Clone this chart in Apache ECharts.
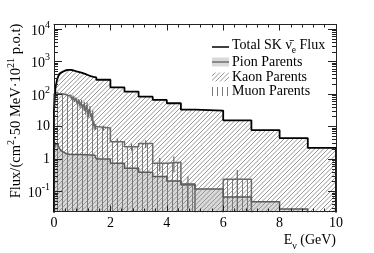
<!DOCTYPE html>
<html><head><meta charset="utf-8">
<script src="https://cdn.jsdelivr.net/npm/echarts@6/dist/echarts.min.js"></script>
<style>html,body{margin:0;padding:0;background:#fff}#c{width:374px;height:253px}</style>
</head><body><div id="c"></div>
<script>
// ---- data (GeV bin edges, flux per bin) ----
const binEdges = [0,0.05,0.1,0.15,0.2,0.25,0.3,0.35,0.4,0.45,0.5,0.55,0.6,0.65,0.7,0.75,0.8,0.85,0.9,0.95,1.0,1.05,1.1,1.15,1.2,1.25,1.3,1.35,1.4,1.45,1.5,2.0,2.5,3.0,3.5,4.0,4.5,5.0,6.0,7.0,8.0,9.0,10.0];
const totalFlux = [30,150,260,350,430,480,510,530,545,555,560,555,545,530,515,500,490,475,460,445,430,415,400,385,370,355,345,335,330,325,
                   275,160,118,83,66,52,33,31,15.5,7.8,4.4,2.2];
const pionFlux = [2.0,2.8,3.0,2.6,2.1,1.8,1.6,1.5,1.45,1.42,1.4,1.4,1.38,1.38,1.37,1.38,1.38,1.37,1.38,1.37,1.36,1.38,1.36,1.35,1.34,1.33,1.32,1.3,1.3,1.28,
                  1.0,0.74,0.52,0.39,0.29,0.21,0.17,0.12,0.068,0.048,0.029,0.01];
const muonFlux = [100,110,105,100,98,102,95,97,100,92,88,90,75,80,65,70,55,60,45,55,40,48,30,45,25,35,20,25,11,10,
                  9,3.4,2.4,3.0,0.74,0.8,0.16,0,0.24,0,0,0];
const muonErr = [4,4,4,4,4,4,4,4,4,5,5,5,8,10,8,10,8,10,9,12,8,10,7,10,6,8,5,6,3,2,
                 1.5,0.9,0.6,0.8,0.33,0.4,0.13,0,0.22,0,0,0];
const xTicks = [0,2,4,6,8,10];
const yDecades = [-1,0,1,2,3,4];
const yLabelBase = ['10','1','10','10','10','10'];
const yLabelExp = ['-1','','','2','3','4'];
const seriesNames = ['Total SK \u03bd\u0304{sub|e} Flux','Pion Parents','Kaon Parents','Muon Parents'];

// ---- helpers ----
const LOG_MIN = -1.615, LOG_MAX = 4.14, FLOOR = -6;
const lg = v => v > 0 ? Math.log10(v) : FLOOR;
function steps(vals){
  const pts = [[binEdges[0], FLOOR]];
  vals.forEach((v,i)=>{ pts.push([binEdges[i], lg(v)], [binEdges[i+1], lg(v)]); });
  pts.push([binEdges[binEdges.length-1], FLOOR]);
  return pts;
}
const errData = [];
muonFlux.forEach((v,i)=>{
  if (v > 0 && muonErr[i] > 0) {
    const c = (binEdges[i] + binEdges[i+1]) / 2;
    errData.push([c, lg(Math.max(v - muonErr[i], 1e-6)), lg(v + muonErr[i])]);
  }
});
const minorVals = [];
for (let n = -2; n <= 4; n++) for (let k = 2; k <= 9; k++) {
  const l = Math.log10(k) + n; if (l > LOG_MIN && l < LOG_MAX) minorVals.push(l);
}
function diagPattern(){
  const c = document.createElement('canvas'); c.width = 9; c.height = 9;
  const g = c.getContext('2d'); g.strokeStyle = '#8a8a8a'; g.lineWidth = 0.9;
  for (let k = 0; k <= 4; k++){ const cc = k*4.5; g.beginPath(); g.moveTo(cc,0); g.lineTo(cc-9,9); g.stroke(); }
  return {image: c, repeat: 'repeat'};
}
function vertPattern(){
  const c = document.createElement('canvas'); c.width = 5; c.height = 5;
  const g = c.getContext('2d'); g.strokeStyle = '#7a7a7a'; g.lineWidth = 1;
  g.beginPath(); g.moveTo(2.5,0); g.lineTo(2.5,5); g.stroke();
  return {image: c, repeat: 'repeat'};
}
const DIAG = diagPattern(), VERT = vertPattern();
const FONT = 'Liberation Serif';
const AX = '#222';

const yBase = (pos, show, ticks, len) => ({
  type: 'value', position: pos, min: LOG_MIN, max: LOG_MAX, z: 10,
  axisLine: {show: true, lineStyle: {color: AX, width: 1}},
  splitLine: {show: false},
  axisTick: {show: true, inside: true, length: len, customValues: ticks, lineStyle: {color: AX, width: 1}},
  axisLabel: show ? {
    show: true, customValues: yDecades, margin: 4, fontFamily: FONT, color: '#000',
    formatter: v => { const i = yDecades.indexOf(Math.round(v)); const e = yLabelExp[i];
      return e ? '{b|' + yLabelBase[i] + '}{s|' + e + '}' : '{b|' + yLabelBase[i] + '}'; },
    rich: { b: {fontSize: 14, fontFamily: FONT, verticalAlign: 'bottom', color: '#000'},
            s: {fontSize: 10, fontFamily: FONT, verticalAlign: 'bottom', padding: [0,0,8,0], color: '#000'} }
  } : {show: false}
});
const xBase = (pos, show) => ({
  type: 'value', position: pos, min: 0, max: 10, interval: 2, z: 10,
  axisLine: {show: true, onZero: false, lineStyle: {color: AX, width: 1}},
  splitLine: {show: false},
  axisTick: {show: true, inside: true, length: 6, lineStyle: {color: AX}},
  minorTick: {show: true, splitNumber: 5, length: 3, lineStyle: {color: AX}},
  axisLabel: show ? {show: true, margin: 5, fontSize: 14, fontFamily: FONT, color: '#000',
      formatter: v => String(xTicks[xTicks.indexOf(v)])} : {show: false}
});

const chart = echarts.init(document.getElementById('c'));
chart.setOption({
  animation: false,
  backgroundColor: '#fff',
  grid: {left: 54, right: 38, top: 24.5, bottom: 41.5, containLabel: false},
  xAxis: [
    Object.assign(xBase('bottom', true), {
      name: '{b|E}{sub|\u03bd}{b| (GeV)}', nameLocation: 'end', nameGap: 0,
      nameTextStyle: {align: 'right', verticalAlign: 'top', padding: [22,0,0,0],
        rich: { b: {fontSize: 14, fontFamily: FONT, verticalAlign: 'bottom', padding: [0,0,4,0], color: '#000'},
                sub: {fontSize: 10, fontFamily: FONT, verticalAlign: 'bottom', color: '#000'} }}
    }),
    xBase('top', false)
  ],
  yAxis: [
    yBase('left', true, yDecades, 8),
    yBase('left', false, minorVals, 4),
    yBase('right', false, yDecades, 8),
    yBase('right', false, minorVals, 4)
  ],
  series: [
    {name: 'Pion fill', type: 'line', data: steps(pionFlux), symbol: 'none', z: 1,
     lineStyle: {width: 0}, areaStyle: {color: '#d9d9d9', opacity: 1, origin: 'start'}},
    {name: 'Kaon Parents', type: 'line', data: steps(totalFlux), symbol: 'none', z: 2,
     lineStyle: {width: 0}, areaStyle: {color: DIAG, opacity: 1, origin: 'start'}},
    {name: 'Muon Parents', type: 'line', data: steps(muonFlux), symbol: 'none', z: 3,
     lineStyle: {color: '#6a6a6a', width: 1.5}, areaStyle: {color: VERT, opacity: 1, origin: 'start'}},
    {name: 'Muon err', type: 'custom', z: 4, clip: true, data: errData,
     renderItem: (params, api) => {
       const p1 = api.coord([api.value(0), api.value(1)]);
       const p2 = api.coord([api.value(0), api.value(2)]);
       return {type: 'line', shape: {x1: p1[0], y1: p1[1], x2: p2[0], y2: p2[1]},
               style: {stroke: '#6a6a6a', lineWidth: 1.2}};
     }},
    {name: 'Pion Parents', type: 'line', data: steps(pionFlux), symbol: 'none', z: 5,
     lineStyle: {color: '#5a5a5a', width: 1.5}},
    {name: 'Total', type: 'line', data: steps(totalFlux), symbol: 'none', z: 6,
     lineStyle: {color: '#000', width: 1.8}}
  ],
  graphic: [
    {type: 'text', x: 15, y: 111, rotation: Math.PI/2,
     style: {text: '{b|Flux/(cm}{s|2}{b|\u00b750 MeV\u00b710}{s|21}{b| p.o.t)}',
       align: 'center', verticalAlign: 'middle',
       rich: { b: {fontSize: 14.5, fontFamily: FONT, verticalAlign: 'bottom', fill: '#000'},
               s: {fontSize: 10, fontFamily: FONT, verticalAlign: 'bottom', padding: [0,0,7,0], fill: '#000'} }}},
    {type: 'line', shape: {x1: 212, y1: 47, x2: 229, y2: 47}, style: {stroke: '#000', lineWidth: 1.5}},
    {type: 'rect', shape: {x: 212, y: 57.5, width: 17, height: 9}, style: {fill: '#d9d9d9'}},
    {type: 'line', shape: {x1: 212, y1: 62, x2: 229, y2: 62}, style: {stroke: '#555', lineWidth: 1.2}},
    {type: 'rect', shape: {x: 212, y: 72.5, width: 17, height: 9}, style: {fill: DIAG}},
    {type: 'rect', shape: {x: 212, y: 87, width: 17, height: 9}, style: {fill: VERT}},
    {type: 'text', x: 232, y: 47, style: {text: '{b|' + seriesNames[0].replace('{sub|e}', '}{sub|e}{b|') + '}', verticalAlign: 'middle',
       rich: { b: {fontSize: 14, fontFamily: FONT, verticalAlign: 'bottom', padding: [0,0,3,0], fill: '#000'},
               sub: {fontSize: 9.5, fontFamily: FONT, verticalAlign: 'bottom', fill: '#000'} }}},
    {type: 'text', x: 232, y: 62, style: {text: seriesNames[1], verticalAlign: 'middle', font: '14px "Liberation Serif"', fill: '#000'}},
    {type: 'text', x: 232, y: 77, style: {text: seriesNames[2], verticalAlign: 'middle', font: '14px "Liberation Serif"', fill: '#000'}},
    {type: 'text', x: 232, y: 91.5, style: {text: seriesNames[3], verticalAlign: 'middle', font: '14px "Liberation Serif"', fill: '#000'}}
  ]
});
</script></body></html>
